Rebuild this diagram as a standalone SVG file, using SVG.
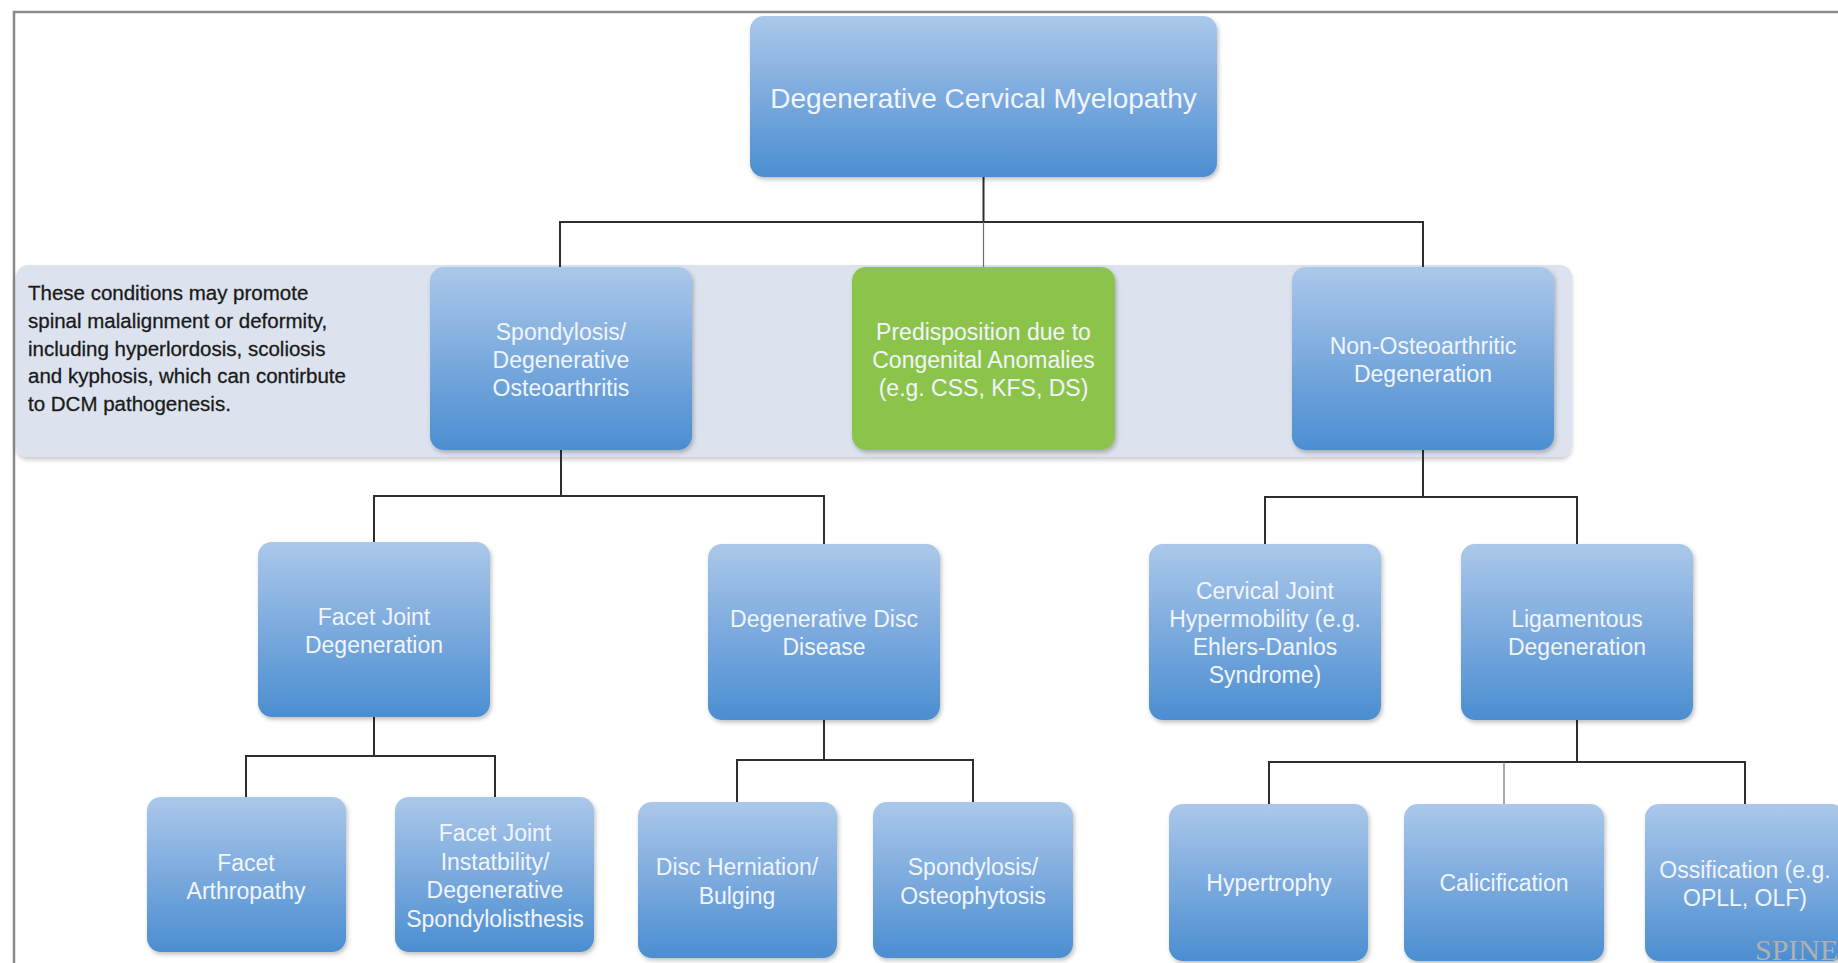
<svg xmlns="http://www.w3.org/2000/svg" width="1838" height="963" viewBox="0 0 1838 963">
<style>
.frame{fill:none;stroke:#8a8a8a;stroke-width:2.5}
.band{fill:#dce3ee}
.node{fill:url(#blue);filter:url(#sh)}
.green{fill:#8cc44b;filter:url(#sh)}
.t{font-family:"Liberation Sans",Arial,sans-serif;font-size:23px;fill:#f1f5fb;text-anchor:middle}
.big{font-size:28px}
.note{font-family:"Liberation Sans",Arial,sans-serif;font-size:20.5px;fill:#1a1a1a;stroke:#1a1a1a;stroke-width:0.3}
.c{fill:none;stroke:#2e2e2e;stroke-width:2}
.thin{fill:none;stroke:#707070;stroke-width:1.2}
.wm{font-family:"Liberation Serif","Times New Roman",serif;font-size:30px;fill:#b0b0b0}
</style>
<defs>
<linearGradient id="blue" x1="0" y1="0" x2="0" y2="1">
<stop offset="0" stop-color="#abc8ea"/>
<stop offset="0.45" stop-color="#80addf"/>
<stop offset="1" stop-color="#4b8ed1"/>
</linearGradient>
<filter id="sh" x="-10%" y="-10%" width="125%" height="125%">
<feDropShadow dx="1.5" dy="2.5" stdDeviation="2" flood-color="#000" flood-opacity="0.25"/>
</filter>
<filter id="bsh" x="-5%" y="-10%" width="110%" height="125%">
<feDropShadow dx="0" dy="3" stdDeviation="2" flood-color="#000" flood-opacity="0.2"/>
</filter>
</defs>
<rect width="1838" height="963" fill="#ffffff"/>
<rect class="frame" x="14" y="12" width="1900" height="1000"/>
<rect class="band" x="16" y="265" width="1556" height="192" rx="12" filter="url(#bsh)"/>
<text class="note" x="28"><tspan x="28" y="300">These conditions may promote</tspan><tspan x="28" y="328">spinal malalignment or deformity,</tspan><tspan x="28" y="356">including hyperlordosis, scoliosis</tspan><tspan x="28" y="383">and kyphosis, which can contirbute</tspan><tspan x="28" y="411">to DCM pathogenesis.</tspan></text>
<g id="connectors">
<path class="c" d="M983.5,177 V222 M560,267 V222 H1423 V267"/>
<path class="thin" d="M983.5,222 V267"/>
<path class="c" d="M561,450 V496 M374,542 V496 H824 V544"/>
<path class="c" d="M1423,450 V497 M1265,544 V497 H1577 V544"/>
<path class="c" d="M374,717 V756 M246,797 V756 H495 V797"/>
<path class="c" d="M824,720 V760 M737,802 V760 H973 V802"/>
<path class="c" d="M1577,720 V762 M1269,804 V762 H1745 V804"/>
<path class="thin" d="M1504,762 V804"/>
</g>
<g id="n-dcm"><rect class="node" x="750" y="16" width="467" height="161" rx="14"/><text class="t big" x="983.5" y="108">Degenerative Cervical Myelopathy</text></g>
<g id="n-spondylosis"><rect class="node" x="430" y="267" width="262" height="183" rx="14"/><text class="t"><tspan x="561" y="340">Spondylosis/</tspan><tspan x="561" y="368">Degenerative</tspan><tspan x="561" y="396">Osteoarthritis</tspan></text></g>
<g id="n-congenital"><rect class="green" x="852" y="267" width="263" height="183" rx="14"/><text class="t"><tspan x="983.5" y="340">Predisposition due to</tspan><tspan x="983.5" y="368">Congenital Anomalies</tspan><tspan x="983.5" y="396">(e.g. CSS, KFS, DS)</tspan></text></g>
<g id="n-nonosteo"><rect class="node" x="1292" y="267" width="262" height="183" rx="14"/><text class="t"><tspan x="1423" y="354">Non-Osteoarthritic</tspan><tspan x="1423" y="382">Degeneration</tspan></text></g>
<g id="n-facetdeg"><rect class="node" x="258" y="542" width="232" height="175" rx="14"/><text class="t"><tspan x="374" y="625">Facet Joint</tspan><tspan x="374" y="653">Degeneration</tspan></text></g>
<g id="n-ddd"><rect class="node" x="708" y="544" width="232" height="176" rx="14"/><text class="t"><tspan x="824" y="627">Degenerative Disc</tspan><tspan x="824" y="655">Disease</tspan></text></g>
<g id="n-cervical"><rect class="node" x="1149" y="544" width="232" height="176" rx="14"/><text class="t"><tspan x="1265" y="599">Cervical Joint</tspan><tspan x="1265" y="627">Hypermobility (e.g.</tspan><tspan x="1265" y="655">Ehlers-Danlos</tspan><tspan x="1265" y="683">Syndrome)</tspan></text></g>
<g id="n-ligament"><rect class="node" x="1461" y="544" width="232" height="176" rx="14"/><text class="t"><tspan x="1577" y="627">Ligamentous</tspan><tspan x="1577" y="655">Degeneration</tspan></text></g>
<g id="n-arthropathy"><rect class="node" x="147" y="797" width="199" height="155" rx="14"/><text class="t"><tspan x="246" y="871">Facet</tspan><tspan x="246" y="899">Arthropathy</tspan></text></g>
<g id="n-instability"><rect class="node" x="395" y="797" width="199" height="155" rx="14"/><text class="t"><tspan x="495" y="841">Facet Joint</tspan><tspan x="495" y="870">Instatbility/</tspan><tspan x="495" y="898">Degenerative</tspan><tspan x="495" y="927">Spondylolisthesis</tspan></text></g>
<g id="n-herniation"><rect class="node" x="638" y="802" width="199" height="156" rx="14"/><text class="t"><tspan x="737" y="875">Disc Herniation/</tspan><tspan x="737" y="904">Bulging</tspan></text></g>
<g id="n-osteophytosis"><rect class="node" x="873" y="802" width="200" height="156" rx="14"/><text class="t"><tspan x="973" y="875">Spondylosis/</tspan><tspan x="973" y="904">Osteophytosis</tspan></text></g>
<g id="n-hypertrophy"><rect class="node" x="1169" y="804" width="199" height="157" rx="14"/><text class="t" x="1269" y="891">Hypertrophy</text></g>
<g id="n-calcification"><rect class="node" x="1404" y="804" width="200" height="157" rx="14"/><text class="t" x="1504" y="891">Calicification</text></g>
<g id="n-ossification"><rect class="node" x="1645" y="804" width="200" height="157" rx="14"/><text class="t"><tspan x="1745" y="878">Ossification (e.g.</tspan><tspan x="1745" y="906">OPLL, OLF)</tspan></text></g>
<text class="wm" x="1755" y="960">SPINE</text>
</svg>
